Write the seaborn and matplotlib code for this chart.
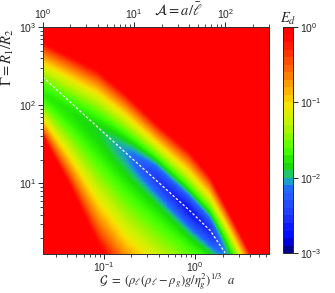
import numpy as np
import seaborn as sns
import matplotlib.pyplot as plt
from matplotlib.colors import ListedColormap, LinearSegmentedColormap, BoundaryNorm
from matplotlib.cm import ScalarMappable

# G is proportional to A = a / l : G = G_PER_A * A
G_PER_A = 0.0215
A_RANGE = (1.0, 300.0)
GAMMA_RANGE = (1.25, 1000.0)

# valley of E_d, at a few values of A
knot_A = [1, 2, 4, 8, 18, 40, 68, 100, 160, 300]
valley_gamma = [140, 82, 47, 25, 11.5, 4.6, 2.5, 1.35, 0.6, 0.17]
band_Ed = [0.018, 0.016, 0.014, 0.012, 0.011, 0.011, 0.012, 0.015, 0.03, 0.1]
valley_Ed = [0.018, 0.016, 0.013, 0.008, 0.003, 0.0019, 0.0025, 0.008, 0.03, 0.1]
# half width of the band (decades of Gamma) above / below the valley, out to E_d = 1
width_up = [0.68, 0.74, 0.80, 0.78, 0.72, 0.78, 0.72, 0.62, 0.52, 0.42]
width_down = [0.58, 1.0, 1.5, 1.75, 1.8, 1.6, 1.35, 1.1, 0.9, 0.7]
DIP_WIDTH = 0.24

# white dashed curve
curve_A = [1.0, 7.6, 40.7, 68, 99]
curve_gamma = [229, 26.3, 4.47, 2.5, 1.3]

# one colour per level, E_d from 1e-3 up to 1
level_colors = [
    (0.00, 0.00, 0.55), (0.00, 0.00, 0.85), (0.00, 0.05, 1.00), (0.05, 0.10, 1.00),
    (0.10, 0.18, 1.00), (0.12, 0.25, 1.00), (0.13, 0.30, 1.00), (0.13, 0.36, 1.00),
    (0.13, 0.42, 0.98), (0.10, 0.62, 0.80),
    (0.12, 0.78, 0.40), (0.10, 0.85, 0.05), (0.15, 0.93, 0.00), (0.25, 1.00, 0.00),
    (0.40, 1.00, 0.00), (0.55, 0.97, 0.00), (0.68, 0.95, 0.00), (0.78, 0.95, 0.00),
    (0.86, 0.93, 0.00), (0.95, 0.90, 0.00),
    (1.00, 0.80, 0.00), (1.00, 0.70, 0.00), (1.00, 0.60, 0.00), (1.00, 0.50, 0.00),
    (1.00, 0.40, 0.00), (1.00, 0.30, 0.00), (1.00, 0.20, 0.00), (1.00, 0.10, 0.00),
    (1.00, 0.03, 0.00), (1.00, 0.00, 0.00),
]
cbar_ticks = [-3, -2, -1, 0]
cbar_labels = [r"$\mathdefault{10^{-3}}$", r"$\mathdefault{10^{-2}}$",
               r"$\mathdefault{10^{-1}}$", r"$\mathdefault{10^{0}}$"]

sns.set_style("ticks")
plt.rcParams["font.family"] = ["Liberation Sans", "DejaVu Sans"]
plt.rcParams["mathtext.fontset"] = "custom"
plt.rcParams["mathtext.rm"] = "Liberation Sans"
plt.rcParams["mathtext.it"] = "Liberation Sans:italic"

# build the map in log coordinates
u = np.linspace(0, np.log10(A_RANGE[1]), 500)
v = np.linspace(np.log10(GAMMA_RANGE[0]), np.log10(GAMMA_RANGE[1]), 500)
U, V = np.meshgrid(u, v)
ku = np.log10(knot_A)
vt = np.interp(U, ku, np.log10(valley_gamma))
b = np.interp(U, ku, np.log10(band_Ed))
m = np.interp(U, ku, np.log10(valley_Ed))
wu = np.interp(U, ku, width_up)
wd = np.interp(U, ku, width_down)
d = V - vt
r = np.minimum(np.abs(d) / np.where(d >= 0, wu, wd), 1)
logE = b * (1 - r ** 1.6) + (m - b) * np.exp(-(d / DIP_WIDTH) ** 2)
logE = np.clip(logE, -2.999, -1e-4)

fig = plt.figure(figsize=(3.35, 2.93), dpi=100)
ax = fig.add_axes([0.128, 0.133, 0.675, 0.775])

smooth = LinearSegmentedColormap.from_list("ed", level_colors, N=256)
ax.contourf(G_PER_A * 10 ** U, 10 ** V, logE, levels=np.linspace(-3, 0, 91), cmap=smooth)

sns.lineplot(x=np.array(curve_A) * G_PER_A, y=curve_gamma, ax=ax, color="white",
             lw=0.9, sort=False, estimator=None, linestyle=(0, (2, 1.6)))

ax.set_xscale("log")
ax.set_yscale("log")
ax.set_xlim(G_PER_A * A_RANGE[0], G_PER_A * A_RANGE[1])
ax.set_ylim(*GAMMA_RANGE)

ax2 = ax.twiny()
ax2.set_xscale("log")
ax2.set_xlim(*A_RANGE)

for a in (ax, ax2):
    a.tick_params(which="major", direction="out", length=3.5, width=0.7, labelsize=7.5, pad=1)
    a.tick_params(which="minor", direction="out", length=2, width=0.6)
    for s in a.spines.values():
        s.set_linewidth(0.7)
        s.set_color("#333333")
ax.tick_params(top=False, right=False, which="both")

ax.set_xlabel(r"$\mathcal{G}\ =\ (\rho_\ell(\rho_\ell-\rho_g)g/\eta_g^2)^{1/3}\ \ a$",
              fontsize=9, math_fontfamily="stix")
ax.xaxis.set_label_coords(0.55, -0.076)
ax.set_ylabel(r"$\Gamma = R_1/R_2$", fontsize=10.5, math_fontfamily="stix")
ax.yaxis.set_label_coords(-0.12, 0.868)
ax2.set_xlabel(r"$\mathcal{A} = a/\bar{\ell}$", fontsize=10.5, math_fontfamily="stix")
ax2.xaxis.set_label_coords(0.6, 1.05)

cax = fig.add_axes([0.845, 0.136, 0.03, 0.772])
sm = ScalarMappable(norm=BoundaryNorm(np.linspace(-3, 0, 31), 30), cmap=ListedColormap(level_colors))
cb = fig.colorbar(sm, cax=cax, ticks=cbar_ticks)
cb.ax.set_yticklabels(cbar_labels)
cb.ax.tick_params(length=3.5, width=0.7, labelsize=7.5, pad=1.5)
cb.ax.minorticks_off()
cb.outline.set_linewidth(0.7)
cax.set_title("$E_d$", fontsize=10.5, pad=3, math_fontfamily="stix")

fig.savefig("out.png", dpi=100)
